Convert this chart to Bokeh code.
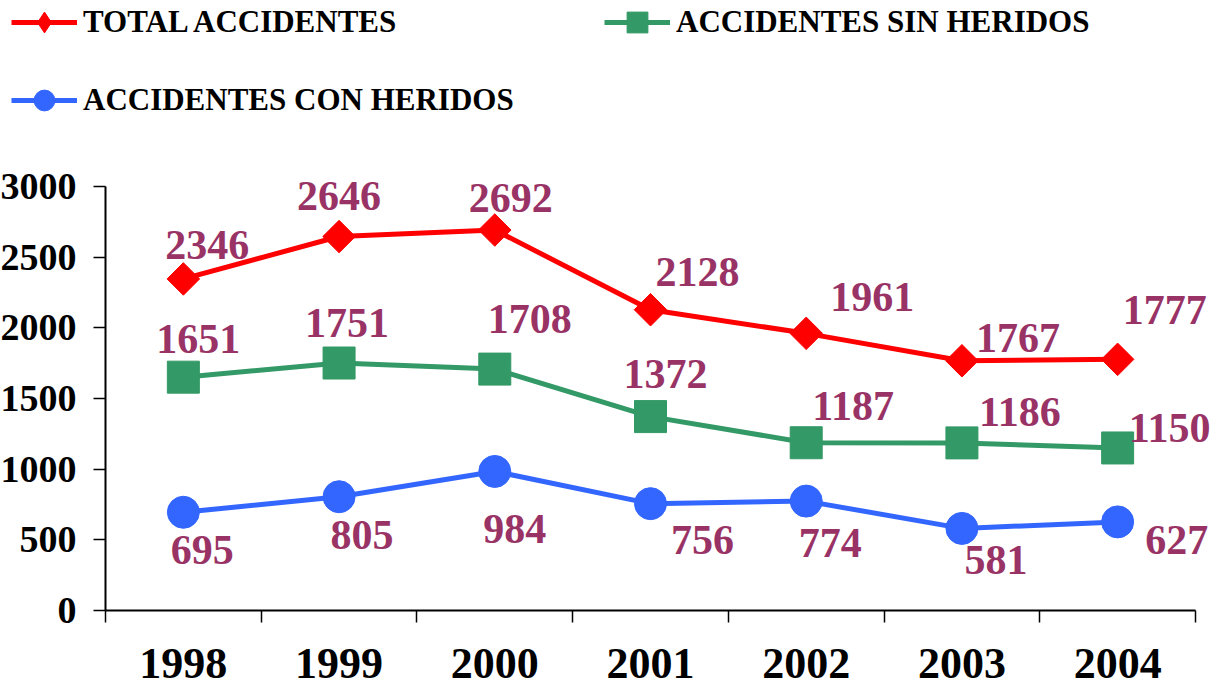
import math
from bokeh.plotting import figure
from bokeh.models import ColumnDataSource, Range1d, FixedTicker, Legend, LegendItem
from bokeh.core.properties import value
from bokeh.embed import file_html
from bokeh.resources import INLINE

# ---- data ----
years = [1998, 1999, 2000, 2001, 2002, 2003, 2004]
total = [2346, 2646, 2692, 2128, 1961, 1767, 1777]
sin_heridos = [1651, 1751, 1708, 1372, 1187, 1186, 1150]
con_heridos = [695, 805, 984, 756, 774, 581, 627]
y_ticks = [0, 500, 1000, 1500, 2000, 2500, 3000]
series_names = ["TOTAL ACCIDENTES", "ACCIDENTES SIN HERIDOS", "ACCIDENTES CON HERIDOS"]

# ---- label placement (pixel offsets from each point) ----
total_dx = [24, 0, 16, 47, 66, 56, 47]
total_dy = [-34, -41, -32, -38, -36, -23, -49]
sin_dx = [15, 8, 35, 15, 47, 58, 52]
sin_dy = [-38, -40, -50, -43, -37, -31, -20]
con_dx = [19, 23, 20, 52, 24, 34, 59]
con_dy = [38, 38, 58, 36, 42, 32, 18]

FONT = "Liberation Serif"
LABEL_COLOR = "#993366"

# ---- layout: the frame fills the canvas; axes are pinned inside it ----
W, H = 1219, 686
PLOT_L, PLOT_R, PLOT_T, PLOT_B = 105, 1195, 186, 610   # pixel box of the axes
x_lo, x_hi = years[0] - 0.5, years[-1] + 0.5
y_lo, y_hi = y_ticks[0], y_ticks[-1]
xs = (x_hi - x_lo) / (PLOT_R - PLOT_L)
ys = (y_hi - y_lo) / (PLOT_B - PLOT_T)

p = figure(width=W, height=H, output_backend="svg", toolbar_location=None,
           x_range=Range1d(x_lo - PLOT_L * xs, x_hi + (W - PLOT_R) * xs),
           y_range=Range1d(y_lo - (H - PLOT_B) * ys, y_hi + PLOT_T * ys),
           min_border_left=0, min_border_right=0, min_border_top=0, min_border_bottom=0)
p.margin = (0, 0, 0, 0)
p.outline_line_color = None
p.xgrid.visible = False
p.ygrid.visible = False
p.background_fill_color = "white"
p.border_fill_color = "white"

# x axis: labels at year centres, tick marks at boundaries
xa = p.xaxis[0]
xa.fixed_location = y_lo
xa.bounds = (x_lo, x_hi)
xa.ticker = FixedTicker(ticks=years, minor_ticks=[y - 0.5 for y in years] + [x_hi])
xa.major_tick_line_color = None
xa.major_tick_out = 0
xa.major_tick_in = 0
xa.minor_tick_out = 12
xa.minor_tick_in = 0
xa.minor_tick_line_color = "black"
xa.minor_tick_line_width = 1.5
xa.axis_line_width = 2
xa.axis_line_color = "black"
xa.major_label_text_font = FONT
xa.major_label_text_font_style = "bold"
xa.major_label_text_font_size = "44px"
xa.major_label_text_color = "black"
xa.major_label_standoff = 26

ya = p.yaxis[0]
ya.fixed_location = x_lo
ya.bounds = (y_lo, y_hi)
ya.ticker = FixedTicker(ticks=y_ticks, minor_ticks=[])
ya.major_tick_out = 12
ya.major_tick_in = 0
ya.major_tick_line_width = 1.5
ya.major_tick_line_color = "black"
ya.minor_tick_line_color = None
ya.axis_line_width = 2
ya.axis_line_color = "black"
ya.major_label_text_font = FONT
ya.major_label_text_font_style = "bold"
ya.major_label_text_font_size = "38px"
ya.major_label_text_color = "black"
ya.major_label_standoff = 17

specs = [
    (total, "#FF0000", dict(marker="square", angle=math.pi / 4, size=23), total_dx, total_dy),
    (sin_heridos, "#339966", dict(marker="square", size=32), sin_dx, sin_dy),
    (con_heridos, "#3366FF", dict(marker="circle", size=32), con_dx, con_dy),
]

items = []
for i, ((vals, color, mk, dx, dy), name) in enumerate(zip(specs, series_names)):
    src = ColumnDataSource(dict(x=years, y=vals, txt=[str(v) for v in vals], dx=dx, dy=dy))
    ln = p.line("x", "y", source=src, line_color=color, line_width=5)
    if i == 0:
        # diamond glyph used as the legend swatch; it sits hidden under the plot marker
        sw = p.scatter("x", "y", source=src, marker="diamond", size=20,
                       fill_color=color, line_color=color)
    sc = p.scatter("x", "y", source=src, fill_color=color, line_color=color, **mk)
    if i != 0:
        sw = sc
    items.append(LegendItem(label=name, renderers=[ln, sw]))

for (vals, color, mk, dx, dy) in specs:
    src = ColumnDataSource(dict(x=years, y=vals, txt=[str(v) for v in vals], dx=dx, dy=dy))
    p.text("x", "y", text="txt", x_offset="dx", y_offset="dy", source=src,
           text_font=value(FONT), text_font_style="bold", text_font_size="42px",
           text_color=LABEL_COLOR, text_align="center", text_baseline="middle")

legend = Legend(items=items, location=(11, 560), orientation="horizontal", ncols=2,
                glyph_width=66, glyph_height=52, label_height=52, label_width=495,
                label_standoff=6, spacing=26, padding=0, margin=0,
                border_line_color=None, background_fill_alpha=0,
                label_text_font=FONT, label_text_font_style="bold",
                label_text_font_size="31px", label_text_color="black")
p.add_layout(legend, "center")

open("out.html", "w").write(file_html(p, INLINE))
